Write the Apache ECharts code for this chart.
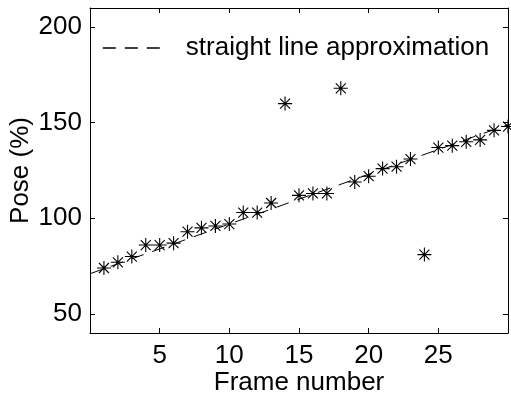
<!DOCTYPE html>
<html>
<head>
<meta charset="utf-8">
<script src="https://cdn.jsdelivr.net/npm/echarts@6/dist/echarts.min.js"></script>
<style>
  html, body { margin: 0; padding: 0; background: #fff; }
  #chart { width: 511px; height: 398px; }
</style>
</head>
<body>
<div id="chart"></div>
<script>
// frames and pose values
const frames = [1, 2, 3, 4, 5, 6, 7, 8, 9, 10, 11, 12, 13, 14, 15, 16, 17, 18, 19, 20, 21, 22, 23, 24, 25, 26, 27, 28, 29, 30]
const pose = [74, 77, 80, 86, 86, 87, 93, 95, 96, 97, 103, 103, 108, 160, 112, 113, 113, 168, 119, 122, 126, 127, 131, 81, 137, 138, 140, 141, 146, 148]
// end points of the fitted line
const fitX = [0, 30]
const fitY = [71, 149]
const xTicks = [5, 10, 15, 20, 25]
const yTicks = [50, 100, 150, 200]

const fontFamily = '"Liberation Sans", Arial, Helvetica, sans-serif'
const fontSize = 26
const star = 'path://M0,7L14,7M7,0L7,14M2,2L12,12M2,12L12,2'

const chart = echarts.init(document.getElementById('chart'), null, { renderer: 'canvas' })

const baseX = {
  type: 'value',
  min: 0,
  max: 30,
  axisLine: { show: true, onZero: false, lineStyle: { color: '#000', width: 1 } },
  axisTick: { show: true, inside: true, length: 5, customValues: xTicks, lineStyle: { color: '#000' } },
  splitLine: { show: false }
}
const baseY = {
  type: 'value',
  min: 40,
  max: 210,
  axisLine: { show: true, onZero: false, lineStyle: { color: '#000', width: 1 } },
  axisTick: { show: true, inside: true, length: 5, customValues: yTicks, lineStyle: { color: '#000' } },
  splitLine: { show: false }
}

const option = {
  backgroundColor: '#fff',
  animation: false,
  textStyle: { fontFamily: fontFamily },
  grid: { left: 90, top: 8, right: 3, bottom: 65, containLabel: false, outerBoundsMode: 'none' },
  legend: {
    data: ['straight line approximation'],
    left: 102,
    top: 35,
    padding: 0,
    itemWidth: 57,
    itemHeight: 14,
    textStyle: { fontSize: fontSize, color: '#000', fontFamily: fontFamily, padding: [0, 0, 0, 21] },
    itemStyle: { opacity: 0 },
    lineStyle: { color: '#000', width: 1.6, type: [13, 9] }
  },
  xAxis: [
    {
      ...baseX,
      position: 'bottom',
      name: 'Frame number',
      nameLocation: 'middle',
      nameGap: 37,
      nameMoveOverlap: false,
      nameTextStyle: { fontSize: fontSize, color: '#000', fontFamily: fontFamily },
      axisLabel: { show: true, customValues: xTicks, fontSize: fontSize, color: '#000', margin: 10, fontFamily: fontFamily }
    },
    { ...baseX, position: 'top', axisLabel: { show: false } }
  ],
  yAxis: [
    {
      ...baseY,
      position: 'left',
      name: 'Pose (%)',
      nameLocation: 'middle',
      nameGap: 56,
      nameMoveOverlap: false,
      nameRotate: 90,
      nameTextStyle: { fontSize: fontSize, color: '#000', fontFamily: fontFamily },
      axisLabel: { show: true, customValues: yTicks, fontSize: fontSize, color: '#000', margin: 8, fontFamily: fontFamily }
    },
    { ...baseY, position: 'right', axisLabel: { show: false } }
  ],
  series: [
    {
      name: 'straight line approximation',
      type: 'line',
      data: fitX.map((x, i) => [x, fitY[i]]),
      showSymbol: false,
      symbol: 'none',
      lineStyle: { color: '#000', width: 1, type: [13, 9] },
      z: 1
    },
    {
      name: 'pose',
      type: 'scatter',
      data: frames.map((f, i) => [f, pose[i]]),
      symbol: star,
      symbolSize: 14,
      itemStyle: { color: 'none', borderColor: '#000', borderWidth: 1.1, opacity: 1 },
      z: 2
    }
  ]
}

chart.setOption(option)
window.addEventListener('resize', () => {
  chart.resize()
})
</script>
</body>
</html>
